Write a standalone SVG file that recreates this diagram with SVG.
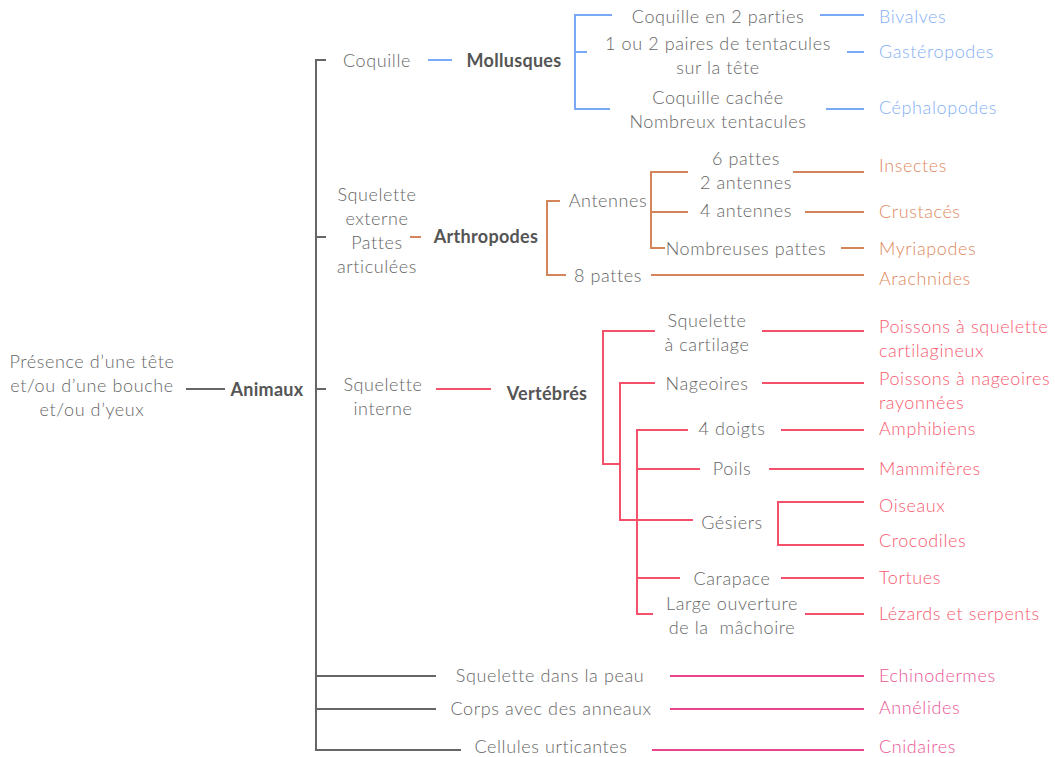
<svg xmlns="http://www.w3.org/2000/svg" width="1055" height="757" viewBox="0 0 1055 757">
<style>
text{font-family:Lato,"Open Sans","Liberation Sans",sans-serif;font-size:18px;letter-spacing:0.6px;font-weight:300;fill:#666;dominant-baseline:central}
.c{text-anchor:middle}
.b{font-weight:700;fill:#555;letter-spacing:0.3px}
.pre{white-space:pre}
.tb{fill:#84aff7}.to{fill:#e0895e}.tr{fill:#f75a70}.tp{fill:#ea5596}
.l{fill:none;stroke-width:2}
.g{stroke:#666}.bl{stroke:#79a9f5}.o{stroke:#d4845a}.r{stroke:#f4506a}.p{stroke:#e8458a}
</style>
<rect width="1055" height="757" fill="#fff"/>
<g id="connectors">
<path class="l g" d="M186 389H225 M326 60H316V750H461 M316 237H326 M316 389H326 M316 676H436 M316 709H436"/>
<path class="l bl" d="M428 60H452 M612 15H575V109H610 M575 52H587 M820 15H864 M847 52H864 M826 109H864"/>
<path class="l o" d="M410 237H421 M560 201H547V275H566 M651 275H864 M688 172H651V248H665 M651 212H688 M793 172H864 M805 212H864 M841 248H864"/>
<path class="l r" d="M436 389H491 M655 331H603V464H620 M655 383H620V520H693 M688 430H637V614H653 M637 469H700 M637 578H680 M762 331H864 M762 383H864 M781 430H864 M769 469H864 M864 502H778V545H864 M781 578H864 M805 614H864"/>
<path class="l p" d="M670 676H864 M670 709H864 M652 750H864"/>
</g>
<g id="root"><text class="c" x="92" y="361">Présence d’une tête</text><text class="c" x="92" y="385">et/ou d’une bouche</text><text class="c" x="92" y="409">et/ou d’yeux</text></g>
<g id="animaux"><text class="c b" x="267" y="389">Animaux</text></g>
<g id="coquille"><text class="c" x="377" y="60">Coquille</text></g>
<g id="mollusques"><text class="c b" x="514" y="60">Mollusques</text></g>
<g id="coq2"><text class="c" x="718" y="16">Coquille en 2 parties</text></g>
<g id="tent"><text class="c" x="718" y="43">1 ou 2 paires de tentacules</text><text class="c" x="718" y="67">sur la tête</text></g>
<g id="cachee"><text class="c" x="718" y="97">Coquille cachée</text><text class="c" x="718" y="121">Nombreux tentacules</text></g>
<g id="bivalves"><text class="tb" x="879" y="16">Bivalves</text></g>
<g id="gasteropodes"><text class="tb" x="879" y="51">Gastéropodes</text></g>
<g id="cephalopodes"><text class="tb" x="879" y="107">Céphalopodes</text></g>
<g id="sqext"><text class="c" x="377" y="194">Squelette</text><text class="c" x="377" y="218">externe</text><text class="c" x="377" y="242">Pattes</text><text class="c" x="377" y="266">articulées</text></g>
<g id="arthropodes"><text class="c b" x="486" y="236">Arthropodes</text></g>
<g id="antennes"><text class="c" x="608" y="200">Antennes</text></g>
<g id="huitpattes"><text class="c" x="608" y="275">8 pattes</text></g>
<g id="sixpattes"><text class="c" x="746" y="158">6 pattes</text><text class="c" x="746" y="182">2 antennes</text></g>
<g id="quatreant"><text class="c" x="746" y="210">4 antennes</text></g>
<g id="nombpattes"><text class="c" x="746" y="248">Nombreuses pattes</text></g>
<g id="insectes"><text class="to" x="879" y="165">Insectes</text></g>
<g id="crustaces"><text class="to" x="879" y="211">Crustacés</text></g>
<g id="myriapodes"><text class="to" x="879" y="248">Myriapodes</text></g>
<g id="arachnides"><text class="to" x="879" y="278">Arachnides</text></g>
<g id="sqint"><text class="c" x="383" y="384">Squelette</text><text class="c" x="383" y="408">interne</text></g>
<g id="vertebres"><text class="c b" x="547" y="393">Vertébrés</text></g>
<g id="cartilage"><text class="c" x="707" y="320">Squelette</text><text class="c" x="707" y="344">à cartilage</text></g>
<g id="nageoires"><text class="c" x="707" y="383">Nageoires</text></g>
<g id="doigts"><text class="c" x="732" y="428">4 doigts</text></g>
<g id="poils"><text class="c" x="732" y="468">Poils</text></g>
<g id="gesiers"><text class="c" x="732" y="522">Gésiers</text></g>
<g id="carapace"><text class="c" x="732" y="578">Carapace</text></g>
<g id="machoire"><text class="c" x="732" y="603">Large ouverture</text><text class="c pre" x="732" y="627">de la  mâchoire</text></g>
<g id="poissons1"><text class="tr" x="879" y="326">Poissons à squelette</text><text class="tr" x="879" y="350">cartilagineux</text></g>
<g id="poissons2"><text class="tr" x="879" y="378">Poissons à nageoires</text><text class="tr" x="879" y="402">rayonnées</text></g>
<g id="amphibiens"><text class="tr" x="879" y="428">Amphibiens</text></g>
<g id="mammiferes"><text class="tr" x="879" y="468">Mammifères</text></g>
<g id="oiseaux"><text class="tr" x="879" y="505">Oiseaux</text></g>
<g id="crocodiles"><text class="tr" x="879" y="540">Crocodiles</text></g>
<g id="tortues"><text class="tr" x="879" y="577">Tortues</text></g>
<g id="lezards"><text class="tr" x="879" y="613">Lézards et serpents</text></g>
<g id="peau"><text class="c" x="550" y="675">Squelette dans la peau</text></g>
<g id="anneaux"><text class="c" x="551" y="708">Corps avec des anneaux</text></g>
<g id="urticantes"><text class="c" x="551" y="746">Cellules urticantes</text></g>
<g id="echinodermes"><text class="tp" x="879" y="675">Echinodermes</text></g>
<g id="annelides"><text class="tp" x="879" y="707">Annélides</text></g>
<g id="cnidaires"><text class="tp" x="879" y="746">Cnidaires</text></g>
</svg>
